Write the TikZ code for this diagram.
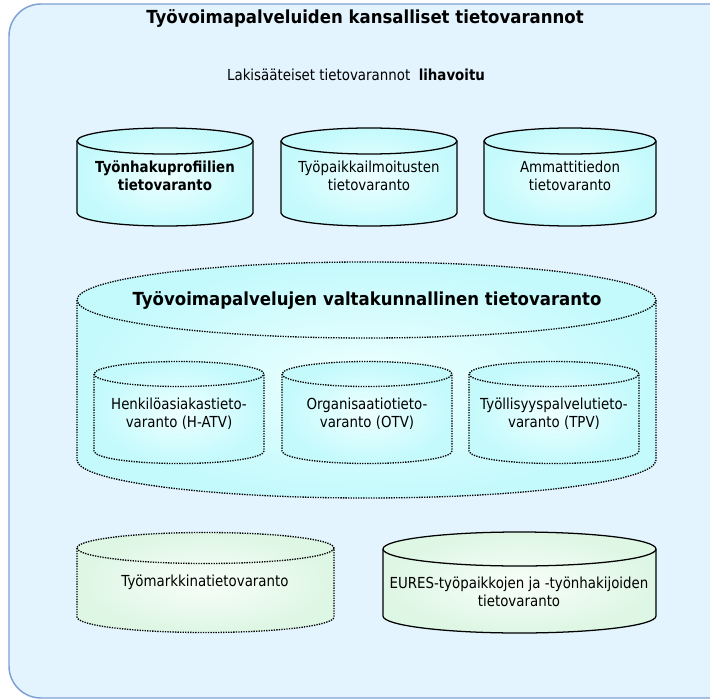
\documentclass[tikz,border=0pt]{standalone}
\usepackage{fontspec}
\setmainfont{DejaVu Sans}[FakeStretch=0.88]
\newfontfamily\headfont{DejaVu Sans}[FakeStretch=0.92]
\begin{document}
\definecolor{panelfill}{RGB}{227,244,254}
\definecolor{panelline}{RGB}{126,160,214}
\definecolor{cyanedge}{RGB}{196,250,252}
\definecolor{cyanmid}{RGB}{238,255,255}
\definecolor{greenedge}{RGB}{222,246,228}
\definecolor{greenmid}{RGB}{248,254,249}
% cylinder: #1 outline style, #2 shading style, #3 cx, #4 rx, #5 y of top cap, #6 y of bottom cap, #7 ry
\newcommand\dbcyl[7]{%
  \shade[#2] (#3-#4,#5) -- (#3-#4,#6)
     arc[start angle=180,end angle=0,x radius=#4,y radius=#7] -- (#3+#4,#5)
     arc[start angle=0,end angle=-180,x radius=#4,y radius=#7] -- cycle;
  \draw[#1] (#3-#4,#5) -- (#3-#4,#6)
     arc[start angle=180,end angle=0,x radius=#4,y radius=#7] -- (#3+#4,#5)
     arc[start angle=0,end angle=-180,x radius=#4,y radius=#7] -- cycle;
  \draw[#1] (#3-#4,#5) arc[start angle=180,end angle=0,x radius=#4,y radius=#7];
}
\begin{tikzpicture}[x=0.75pt,y=-0.75pt,
  solidcyl/.style={draw=black,line width=0.95pt,line join=round},
  dotcyl/.style={draw=black,line width=1pt,dash pattern=on 1pt off 0.9pt},
  cyanshade/.style={inner color=cyanmid,outer color=cyanedge},
  greenshade/.style={inner color=greenmid,outer color=greenedge},
  txt/.style={font=\fontsize{11.4pt}{13.5pt}\selectfont,align=center,inner sep=0pt},
  btxt/.style={txt,font=\fontsize{11.4pt}{13.5pt}\selectfont\bfseries},
  title/.style={inner sep=0pt,font=\headfont\fontsize{13.5pt}{16pt}\selectfont\bfseries}]
\useasboundingbox (0,0) rectangle (710,699);
\clip (0,0) rectangle (710,699);
% outer panel
\draw[panelline,fill=panelfill,line width=1.1pt,rounded corners=24] (9,4) rectangle (760,698);
\node[title] (paneltitle) at (365,18) {Työvoimapalveluiden kansalliset tietovarannot};
\node[txt] (legend) at (356,75) {Lakisääteiset tietovarannot\ \ \textbf{lihavoitu}};
% upper row
\dbcyl{solidcyl}{cyanshade}{165}{88}{141}{213}{13}
\dbcyl{solidcyl}{cyanshade}{369}{88}{141}{213}{13}
\dbcyl{solidcyl}{cyanshade}{570}{86}{141}{213}{13}
\node[btxt] (profiles) at (165,176) {Työnhakuprofiilien\\tietovaranto};
\node[txt] (vacancies) at (369,176) {Työpaikkailmoitusten\\tietovaranto};
\node[txt] (occupations) at (570,176) {Ammattitiedon\\tietovaranto};
% national data store with its three parts
\dbcyl{dotcyl}{cyanshade}{366.5}{289.5}{300}{460}{38}
\node[title] (national) at (367,300) {Työvoimapalvelujen valtakunnallinen tietovaranto};
\dbcyl{dotcyl}{cyanshade}{179}{85}{374}{451}{12.5}
\dbcyl{dotcyl}{cyanshade}{367}{85}{374}{451}{12.5}
\dbcyl{dotcyl}{cyanshade}{554}{85}{374}{451}{12.5}
\node[txt] (hatv) at (179,414) {Henkilöasiakastieto-\\varanto (H-ATV)};
\node[txt] (otv) at (367,414) {Organisaatiotieto-\\varanto (OTV)};
\node[txt] (tpv) at (554,414) {Työllisyyspalvelutieto-\\varanto (TPV)};
% lower row
\dbcyl{dotcyl}{greenshade}{205.5}{128.5}{548}{617}{15.5}
\dbcyl{solidcyl}{greenshade}{519.5}{136.5}{549}{616}{17}
\node[txt] (labour) at (205,582) {Työmarkkinatietovaranto};
\node[txt] (eures) at (519,592) {EURES-työpaikkojen ja -työnhakijoiden\\tietovaranto};
\end{tikzpicture}
\end{document}
